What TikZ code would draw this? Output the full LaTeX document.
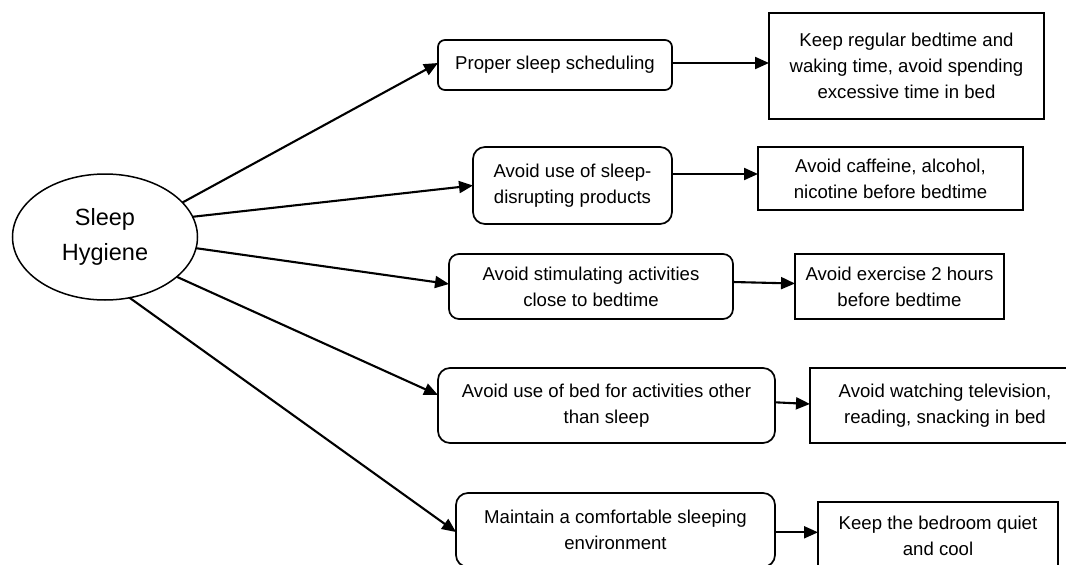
\documentclass[tikz,border=0pt]{standalone}
\usepackage{fontspec}
\setmainfont{Liberation Sans}
\usetikzlibrary{shapes.geometric,arrows.meta}
\tikzset{
  boxtext/.style={font=\fontsize{18.6}{26}\selectfont, align=center, inner sep=0pt, outer sep=0pt},
  rbox/.style={boxtext, draw, line width=1.7pt, rounded corners=#1},
  rbox/.default=10pt,
  sbox/.style={boxtext, draw, line width=1.7pt},
  arr/.style={line width=2.1pt, -{Triangle[length=14pt,width=12pt]}},
}
\begin{document}
\begin{tikzpicture}[x=1pt,y=-1pt]
\useasboundingbox (0,0) rectangle (1066,565);
\clip (0,0) rectangle (1066,565);
\fill[white] (0,0) rectangle (1066,565);

\node[ellipse, draw, line width=1.5pt, inner sep=0pt, outer sep=0pt,
      minimum width=185pt, minimum height=126pt, align=center,
      font=\fontsize{23.5}{35}\selectfont] (e) at (105,237) {Sleep\\Hygiene};

\node[rbox=7pt, minimum width=234pt, minimum height=50pt] (b1) at (555,65) {Proper sleep scheduling};
\node[sbox, minimum width=275pt, minimum height=106pt] (b2) at (906.5,66) {Keep regular bedtime and\\waking time, avoid spending\\excessive time in bed};

\node[rbox=12pt, minimum width=199pt, minimum height=77pt] (b3) at (572.5,185.5) {Avoid use of sleep-\\disrupting products};
\node[sbox, minimum width=265pt, minimum height=63pt] (b4) at (890.5,178.5) {Avoid caffeine, alcohol,\\nicotine before bedtime};

\node[rbox=10pt, minimum width=284pt, minimum height=65pt] (b5) at (591,286.5) {Avoid stimulating activities\\close to bedtime};
\node[sbox, minimum width=209pt, minimum height=65pt] (b6) at (899.5,286.5) {Avoid exercise 2 hours\\before bedtime};

\node[rbox=12pt, minimum width=337pt, minimum height=75pt] (b7) at (606.5,405.5) {Avoid use of bed for activities other\\than sleep};
\node[sbox, minimum width=270pt, minimum height=75pt] (b8) at (945,405.5) {Avoid watching television,\\reading, snacking in bed};

\node[rbox=12pt, minimum width=319pt, minimum height=74pt] (b9) at (615.5,530) {Maintain a comfortable sleeping\\environment};
\node[sbox, minimum width=240pt, minimum height=68pt] (b10) at (938,536) {Keep the bedroom quiet\\and cool};

\draw[arr] (e.24.2) -- ([yshift=2pt]b1.west);
\draw[arr] (e.13.4) -- (b3.west);
\draw[arr] (e.-7.4) -- ([yshift=2.5pt]b5.west);
\draw[arr] (e.-29) -- ([yshift=10.5pt]b7.west);
\draw[arr] (e.-68) -- ([yshift=-2pt]b9.west);

\draw[arr] ([yshift=2pt]b1.east) -- ([yshift=3pt]b2.west);
\draw[arr] ([yshift=11.5pt]b3.east) -- ([yshift=4.5pt]b4.west);
\draw[arr] ([yshift=4.5pt]b5.east) -- ([yshift=3pt]b6.west);
\draw[arr] ([yshift=3.2pt]b7.east) -- ([yshift=1.5pt]b8.west);
\draw[arr] ([yshift=-2.3pt]b9.east) -- ([yshift=3.7pt]b10.west);
\end{tikzpicture}
\end{document}
